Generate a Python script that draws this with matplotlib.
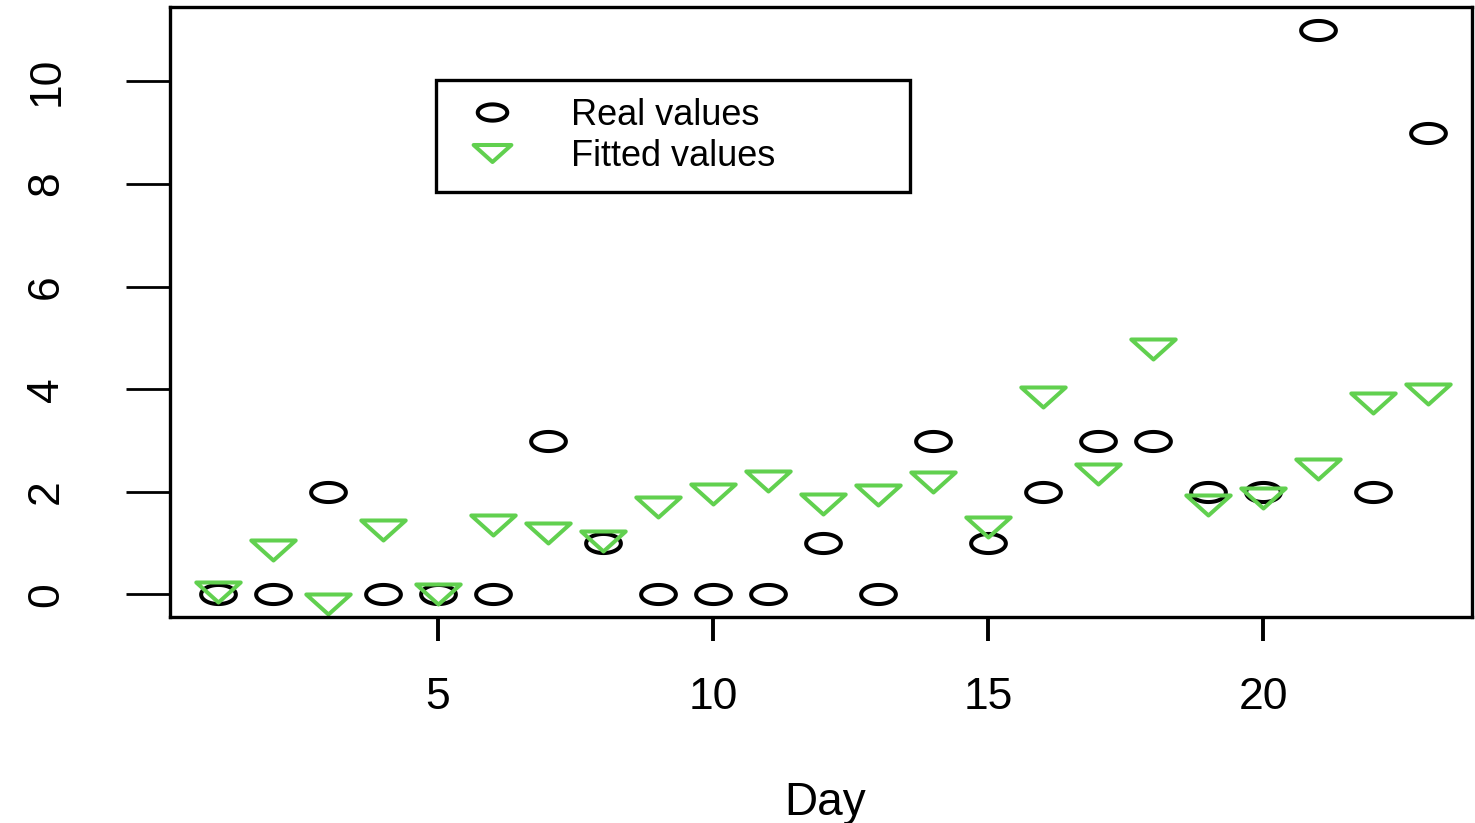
import matplotlib
matplotlib.use("Agg")
import matplotlib.pyplot as plt
import numpy as np
from matplotlib.path import Path

plt.rcParams['font.family'] = ['Liberation Sans', 'DejaVu Sans']

days = list(range(1, 24))
real_values = [0, 0, 2, 0, 0, 0, 3, 1, 0, 0, 0, 1, 0, 3, 1, 2, 3, 3, 2, 2, 11, 2, 9]
fitted_values = [0.05, 0.86, -0.18, 1.26, 0.01, 1.35, 1.20, 1.04, 1.70, 1.96, 2.22, 1.76,
                 1.93, 2.20, 1.31, 3.85, 2.35, 4.78, 1.74, 1.87, 2.44, 3.73, 3.90]
x_ticks = [5, 10, 15, 20]
y_ticks = [0, 2, 4, 6, 8, 10]

green = '#61D04F'

# stretched marker shapes (the reference image is wider than tall)
t = np.linspace(0, 2 * np.pi, 60)
ellipse = Path(np.column_stack([np.cos(t), 0.55 * np.sin(t)]), closed=True)
tri_down = Path([(-1, 0.45), (1, 0.45), (0, -0.45), (-1, 0.45)], closed=True)

fig = plt.figure(figsize=(14.75, 8.23), dpi=100)
ax = fig.add_axes([170 / 1475, (823 - 617) / 823, 1302 / 1475, 609.5 / 823])

ax.plot(days, real_values, linestyle='none', marker=ellipse, markersize=25,
        markerfacecolor='none', markeredgecolor='black', markeredgewidth=2.9,
        label='Real values')
ax.plot(days, fitted_values, linestyle='none', marker=tri_down, markersize=32,
        markerfacecolor='none', markeredgecolor=green, markeredgewidth=2.9,
        label='Fitted values')

ax.set_xlim(0.127, 23.8)
ax.set_ylim(-0.44, 11.44)
ax.set_xticks(x_ticks)
ax.set_yticks(y_ticks)
ax.set_xticklabels([str(v) for v in x_ticks])
ax.set_yticklabels([str(v) for v in y_ticks], rotation=90, va='center')

for s in ax.spines.values():
    s.set_linewidth(2.4)
ax.tick_params(axis='x', length=17, width=2.8, pad=26, labelsize=32)
ax.tick_params(axis='y', length=32, width=2.0, pad=42, labelsize=32)

ax.set_xlabel('Day', fontsize=33)
ax.xaxis.label.set_va('baseline')
ax.xaxis.set_label_coords(0.503, -0.325)

leg = ax.legend(loc='upper left', bbox_to_anchor=(0.2046, 0.871, 0.364, 0.01),
                mode='expand', borderaxespad=0, fontsize=26, frameon=True,
                fancybox=False, edgecolor='black', framealpha=1,
                borderpad=0.5, handlelength=2.1, handletextpad=1.14,
                labelspacing=0.15, markerscale=0.85)
leg.get_frame().set_linewidth(2.4)

fig.savefig('out.png', dpi=100)
